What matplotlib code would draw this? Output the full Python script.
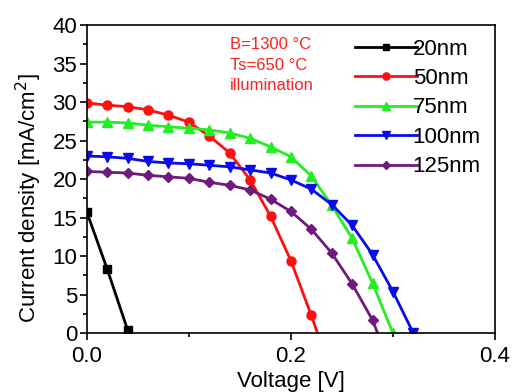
import matplotlib
matplotlib.use('Agg')
import matplotlib.pyplot as plt
import numpy as np
from matplotlib.ticker import MultipleLocator

plt.rcParams['font.family'] = ['Liberation Sans', 'DejaVu Sans']

#%% data
step = 0.02
j_20 = [15.7, 8.3, 0.4]
j_50 = [29.9, 29.6, 29.4, 29.0, 28.3, 27.4, 25.6, 23.4, 19.9, 15.2, 9.4, 2.3]
j_75 = [27.4, 27.4, 27.3, 27.0, 26.8, 26.6, 26.4, 26.0, 25.3, 24.2, 22.9, 20.4,
        16.6, 12.3, 6.5, 0.0]
j_100 = [23.0, 22.9, 22.7, 22.3, 22.1, 22.0, 21.8, 21.6, 21.2, 20.8, 19.9, 18.7,
         16.7, 14.0, 10.2, 5.4, 0.0]
j_125 = [21.0, 20.9, 20.8, 20.5, 20.3, 20.1, 19.6, 19.2, 18.6, 17.4, 15.8, 13.5,
         10.4, 6.4, 1.7]
# open circuit voltages where curve hits zero (off the 0.02 grid)
voc_50 = 0.226
voc_125 = 0.285

labels = ['20nm', '50nm', '75nm', '100nm', '125nm']
colors = ['black', '#ff1010', '#22ee22', '#0a0aee', '#6e1a7e']
markers = ['s', 'o', '^', 'v', 'D']
ms = [5.5, 6.5, 6.5, 6.5, 5.5]

#%% plot
fig = plt.figure(figsize=(5.14, 3.92), dpi=100)
ax = fig.add_axes([0.169, 0.150, 0.794, 0.786])

series = [(j_20, None), (j_50, voc_50), (j_75, None), (j_100, None), (j_125, voc_125)]
for k, (j, voc) in enumerate(series):
    v = np.arange(len(j)) * step
    j = np.array(j)
    n = len(j)
    if voc is not None:
        v = np.append(v, voc)
        j = np.append(j, 0.0)
    ax.plot(v, j, color=colors[k], lw=2.0, marker=markers[k], ms=ms[k],
            markevery=list(range(n)), label=labels[k])

ax.set_xlim(0, 0.4)
ax.set_ylim(0, 40)
ax.xaxis.set_major_locator(MultipleLocator(0.2))
ax.xaxis.set_minor_locator(MultipleLocator(0.1))
ax.yaxis.set_major_locator(MultipleLocator(5))
ax.yaxis.set_minor_locator(MultipleLocator(2.5))
ax.xaxis.set_major_formatter(plt.FormatStrFormatter('%.1f'))
ax.tick_params(which='major', direction='out', length=5, width=1.2, labelsize=16, pad=2)
ax.tick_params(axis='x', which='major', pad=4)
ax.tick_params(which='minor', direction='out', length=3, width=1.2)
for s in ax.spines.values():
    s.set_linewidth(1.2)

ax.set_xlabel('Voltage [V]', fontsize=16, labelpad=3)
ax.set_ylabel('Current density [mA/cm$^2$]', fontsize=16)
ax.yaxis.set_label_coords(-0.105, 0.44)

ax.text(0.350, 0.96, 'B=1300 °C\nTs=650 °C\nillumination', transform=ax.transAxes,
        color='#ff2020', fontsize=12, ha='left', va='top', linespacing=1.45)

ax.legend(loc='upper left', bbox_to_anchor=(0.635, 0.985), frameon=False, fontsize=16,
          handlelength=2.8, handletextpad=-0.2, labelspacing=0.38, borderaxespad=0.2,
          borderpad=0.2, markerscale=0.8)

fig.savefig('out.png', dpi=100)
